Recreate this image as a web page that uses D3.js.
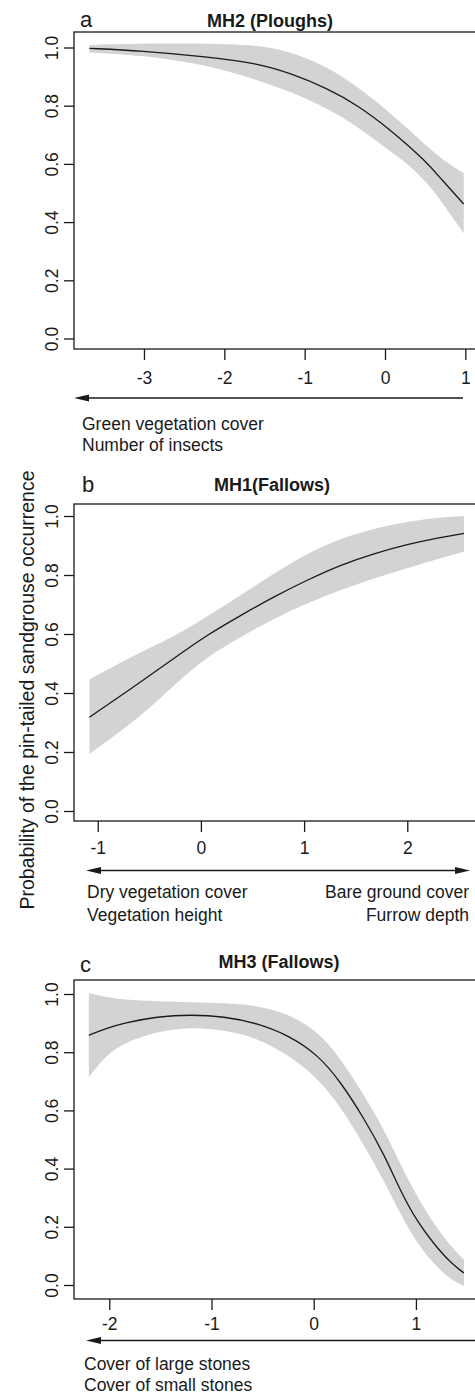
<!DOCTYPE html>
<html>
<head>
<meta charset="utf-8">
<script src="https://cdn.jsdelivr.net/npm/d3@7"></script>
<style>
  html, body { margin: 0; padding: 0; background: #fff; }
  svg { display: block; font-family: "Liberation Sans", Arial, Helvetica, sans-serif; }
</style>
</head>
<body>
<svg id="fig" width="475" height="1394"></svg>
<script>
// ---- Data: fitted probability with 95% band for each habitat model ----
// MH2 (Ploughs)
const xA   = [-3.68, -3.04, -2.21, -1.59, -1.17, -0.72, -0.34, 0.07, 0.28, 0.53, 0.69, 0.98];
const fitA = [0.997, 0.989, 0.968, 0.946, 0.911, 0.860, 0.802, 0.716, 0.665, 0.602, 0.551, 0.462];
const hiA  = [1.009, 1.014, 1.014, 1.009, 0.986, 0.934, 0.865, 0.774, 0.722, 0.659, 0.619, 0.568];
const loA  = [0.983, 0.974, 0.940, 0.888, 0.848, 0.791, 0.728, 0.642, 0.602, 0.533, 0.476, 0.361];

// MH1 (Fallows)
const xB   = [-1.08, -0.58, -0.26, 0.06, 0.39, 0.71, 1.03, 1.35, 1.68, 2.00, 2.32, 2.55];
const fitB = [0.318, 0.438, 0.518, 0.597, 0.664, 0.727, 0.783, 0.834, 0.873, 0.904, 0.928, 0.941];
const hiB  = [0.446, 0.540, 0.591, 0.659, 0.732, 0.806, 0.873, 0.924, 0.958, 0.981, 0.996, 1.000];
const loB  = [0.193, 0.320, 0.427, 0.523, 0.591, 0.653, 0.704, 0.749, 0.789, 0.823, 0.857, 0.879];

// MH3 (Fallows)
const xC   = [-2.20, -2.04, -1.86, -1.53, -1.20, -0.88, -0.55, -0.23, 0.04, 0.26, 0.49, 0.69, 0.85, 1.01, 1.18, 1.34, 1.47];
const fitC = [0.858, 0.881, 0.900, 0.923, 0.929, 0.923, 0.900, 0.855, 0.791, 0.700, 0.574, 0.448, 0.322, 0.219, 0.139, 0.076, 0.041];
const hiC  = [1.003, 0.990, 0.980, 0.975, 0.971, 0.969, 0.961, 0.929, 0.872, 0.780, 0.654, 0.534, 0.413, 0.305, 0.207, 0.133, 0.087];
const loC  = [0.714, 0.786, 0.832, 0.872, 0.886, 0.877, 0.849, 0.786, 0.711, 0.614, 0.482, 0.356, 0.242, 0.144, 0.070, 0.018, -0.004];

// Axis ticks
const yTicks = [0, 0.2, 0.4, 0.6, 0.8, 1.0];
const xTicksA = [-3, -2, -1, 0, 1];
const xTicksB = [-1, 0, 1, 2];
const xTicksC = [-2, -1, 0, 1];

// Titles and gradient captions
const titles = ["MH2 (Ploughs)", "MH1(Fallows)", "MH3 (Fallows)"];
const letters = ["a", "b", "c"];
const captionsLeft = [
  ["Green vegetation cover", "Number of insects"],
  ["Dry vegetation cover", "Vegetation height"],
  ["Cover of large stones", "Cover of small stones"]
];
const captionsRight = [[], ["Bare ground cover", "Furrow depth"], []];
const yTitle = "Probability of the pin-tailed sandgrouse occurrence";

// ---- Layout of the three stacked panels ----
const panels = [
  { x: xA, fit: fitA, hi: hiA, lo: loA, xt: xTicksA,
    xdom: [-3.871, 1.170], top: 32, bottom: 349, y0: 338.5, y1: 47.5,
    letterX: 80, letterY: 27, titleX: 270, titleY: 27, tickBase: 384,
    arrowY: 398, arrowX0: 74, arrowX1: 463, headL: true, headR: false,
    capX: 82, capY: [430, 451] },
  { x: xB, fit: fitB, hi: hiB, lo: loB, xt: xTicksB,
    xdom: [-1.230, 2.695], top: 504, bottom: 821, y0: 811, y1: 516,
    letterX: 82, letterY: 491.5, titleX: 272, titleY: 491, tickBase: 853.5,
    arrowY: 870.5, arrowX0: 86, arrowX1: 470, headL: true, headR: true,
    capX: 87, capY: [897.5, 920.5], capRX: 469 },
  { x: xC, fit: fitC, hi: hiC, lo: loC, xt: xTicksC,
    xdom: [-2.345, 1.617], top: 980, bottom: 1299, y0: 1285, y1: 994,
    letterX: 80, letterY: 971.5, titleX: 279, titleY: 968, tickBase: 1329.5,
    arrowY: 1340.5, arrowX0: 86, arrowX1: 480, headL: true, headR: false,
    capX: 84, capY: [1370, 1391] }
];

const LEFT = 74, RIGHT = 479;
const INK = "#1a1a1a";
const BAND = "#d3d3d3";
const smooth = d3.curveBasis;

const svg = d3.select("#fig");
svg.append("rect").attr("width", 475).attr("height", 1394).attr("fill", "#fff");

panels.forEach((p, i) => {
  const g = svg.append("g");
  const xs = d3.scaleLinear().domain(p.xdom).range([LEFT, RIGHT]);
  const ys = d3.scaleLinear().domain([0, 1]).range([p.y0, p.y1]);
  const rows = p.x.map((v, k) => ({ x: v, fit: p.fit[k], hi: p.hi[k], lo: p.lo[k] }));

  // confidence band
  g.append("path")
    .datum(rows)
    .attr("fill", BAND)
    .attr("d", d3.area()
      .x(d => xs(d.x)).y0(d => ys(d.lo)).y1(d => ys(d.hi))
      .curve(smooth));

  // fitted line
  g.append("path")
    .datum(rows)
    .attr("fill", "none")
    .attr("stroke", INK)
    .attr("stroke-width", 1.3)
    .attr("d", d3.line()
      .x(d => xs(d.x)).y(d => ys(d.fit))
      .curve(smooth));

  // plot frame
  g.append("rect")
    .attr("x", LEFT).attr("y", p.top)
    .attr("width", RIGHT - LEFT).attr("height", p.bottom - p.top)
    .attr("fill", "none").attr("stroke", INK).attr("stroke-width", 1.3);

  // y axis with rotated labels
  const ya = g.append("g").attr("transform", `translate(${LEFT},0)`)
    .call(d3.axisLeft(ys).tickValues(yTicks).tickSize(10).tickFormat(d3.format(".1f")));
  ya.select(".domain").remove();
  ya.selectAll(".tick line").attr("stroke", INK).attr("stroke-width", 1.3);
  ya.selectAll(".tick text")
    .attr("transform", "rotate(-90)")
    .attr("x", 0).attr("y", -16.5).attr("dy", null)
    .attr("text-anchor", "middle")
    .attr("fill", INK)
    .style("font-size", "17.5px")
    .style("font-family", "'Liberation Sans', Arial, sans-serif");

  // x axis
  const xa = g.append("g").attr("transform", `translate(0,${p.bottom})`)
    .call(d3.axisBottom(xs).tickValues(p.xt).tickSize(11).tickFormat(d3.format("d")));
  xa.select(".domain").remove();
  xa.selectAll(".tick line").attr("stroke", INK).attr("stroke-width", 1.3);
  xa.selectAll(".tick text")
    .attr("y", p.tickBase - p.bottom).attr("dy", null)
    .attr("fill", INK)
    .style("font-size", "17.5px")
    .style("font-family", "'Liberation Sans', Arial, sans-serif")
    .text(d => d < 0 ? "-" + Math.abs(d) : String(d));

  // panel letter and title
  g.append("text").attr("x", p.letterX).attr("y", p.letterY)
    .attr("fill", INK).style("font-size", "22px").text(letters[i]);
  g.append("text").attr("x", p.titleX).attr("y", p.titleY)
    .attr("text-anchor", "middle").attr("fill", INK)
    .style("font-size", "18px").style("font-weight", "bold").text(titles[i]);

  // gradient arrow below the axis
  const ay = p.arrowY;
  g.append("line")
    .attr("x1", p.arrowX0 + (p.headL ? 8 : 0)).attr("x2", p.arrowX1 - (p.headR ? 8 : 0))
    .attr("y1", ay).attr("y2", ay)
    .attr("stroke", INK).attr("stroke-width", 1.4);
  const head = (tipX, dir) => {
    const L = 15, W = 3.6;
    return `M${tipX},${ay} L${tipX + dir * L},${ay - W} L${tipX + dir * L},${ay + W} Z`;
  };
  if (p.headL) g.append("path").attr("d", head(p.arrowX0, 1)).attr("fill", INK);
  if (p.headR) g.append("path").attr("d", head(p.arrowX1, -1)).attr("fill", INK);

  // captions
  captionsLeft[i].forEach((t, k) => {
    g.append("text").attr("x", p.capX).attr("y", p.capY[k])
      .attr("fill", INK).style("font-size", "17.5px").text(t);
  });
  captionsRight[i].forEach((t, k) => {
    g.append("text").attr("x", p.capRX).attr("y", p.capY[k])
      .attr("text-anchor", "end")
      .attr("fill", INK).style("font-size", "17.5px").text(t);
  });
});

// shared y-axis title
svg.append("text")
  .attr("transform", "translate(34,690) rotate(-90)")
  .attr("text-anchor", "middle")
  .attr("fill", INK)
  .style("font-size", "19.5px")
  .text(yTitle);
</script>
</body>
</html>
